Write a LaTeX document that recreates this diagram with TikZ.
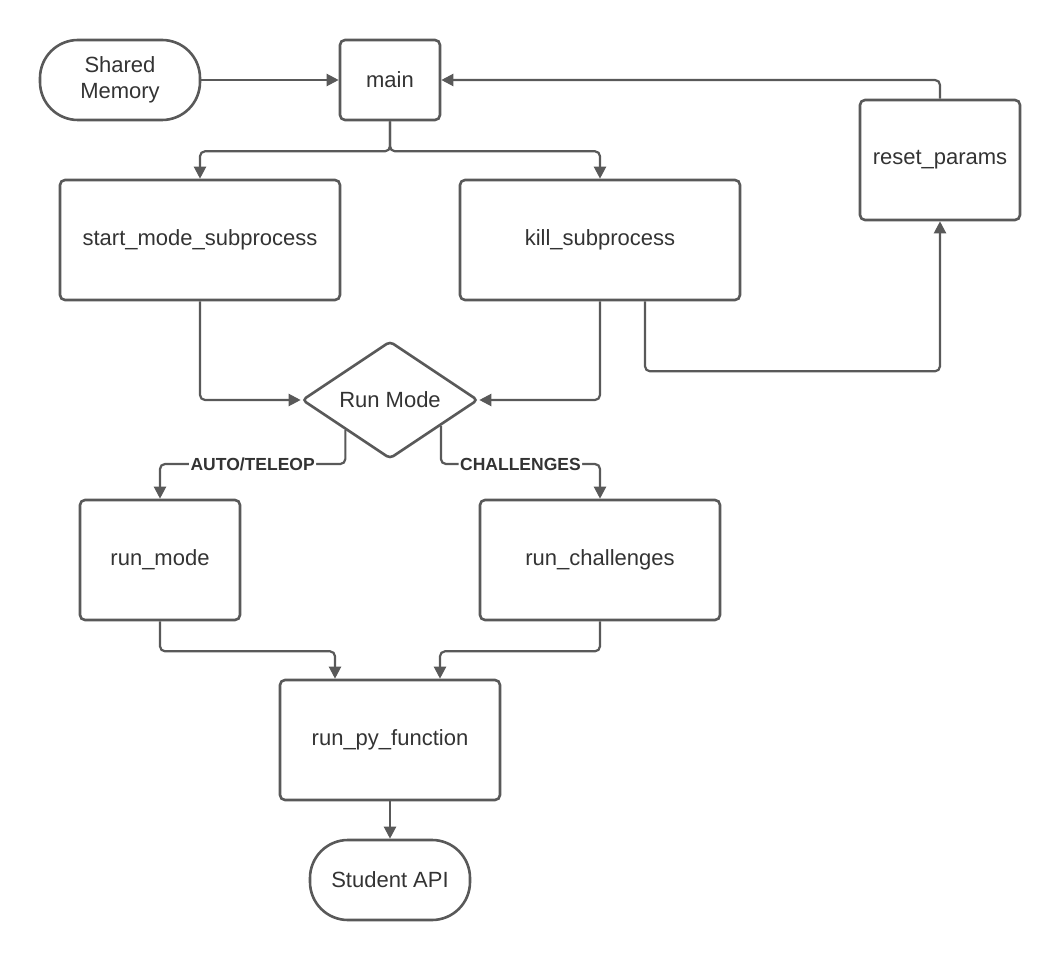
\documentclass[tikz,border=0pt]{standalone}
\usepackage{fontspec}
\setmainfont{Liberation Sans}
\usetikzlibrary{shapes.geometric,arrows.meta,calc}
\definecolor{ln}{HTML}{595959}
\definecolor{tx}{HTML}{333333}
\tikzset{
  x=1pt,y=-1pt,
  base/.style={draw=ln,line width=2.6pt,text=tx,font=\fontsize{22}{26}\selectfont,inner sep=0pt,align=center},
  boxnode/.style={base,rectangle,rounded corners=5pt},
  termnode/.style={base,rectangle,rounded corners=38pt},
  decnode/.style={base,diamond,rounded corners=4pt},
  conn/.style={draw=ln,line width=2.2pt,rounded corners=5pt,-{Triangle[length=12pt,width=12pt]}},
  lbl/.style={fill=white,text=tx,font=\fontsize{17.5}{20}\selectfont\bfseries,inner sep=1.5pt}
}
\begin{document}
\begin{tikzpicture}
\useasboundingbox (0,0) rectangle (1060,960);
\node[termnode,minimum width=160pt,minimum height=80pt] (sm) at (120,80) {Shared\\Memory};
\node[boxnode,minimum width=100pt,minimum height=80pt] (main) at (390,80) {main};
\node[boxnode,minimum width=160pt,minimum height=120pt] (reset) at (940,160) {reset\_params};
\node[boxnode,minimum width=280pt,minimum height=120pt] (start) at (200,240) {start\_mode\_subprocess};
\node[boxnode,minimum width=280pt,minimum height=120pt] (kill) at (600,240) {kill\_subprocess};
\node[decnode,minimum width=176pt,minimum height=116pt] (rm) at (390,400) {Run Mode};
\node[boxnode,minimum width=160pt,minimum height=120pt] (runm) at (160,560) {run\_mode};
\node[boxnode,minimum width=240pt,minimum height=120pt] (runc) at (600,560) {run\_challenges};
\node[boxnode,minimum width=220pt,minimum height=120pt] (rpy) at (390,740) {run\_py\_function};
\node[termnode,minimum width=160pt,minimum height=80pt] (api) at (390,880) {Student API};

\coordinate (rml) at ($(rm.west)!0.5!(rm.south)$);
\coordinate (rmr) at ($(rm.east)!0.43!(rm.south)$);

\draw[conn] (sm.east) -- (main.west);
\draw[conn] (reset.north) |- (main.east);
\draw[conn] (main.south) -- ++(0,30) -| (start.north);
\draw[conn] (main.south) -- ++(0,30) -| (kill.north);
\draw[conn] (start.south) |- (rm.west);
\draw[conn] (kill.south) |- (rm.east);
\draw[conn] ([xshift=45pt]kill.south) -- ++(0,70) -| (reset.south);
\draw[conn] (rml) -- (rml|-0,464) -| node[lbl,pos=0.25] {AUTO/TELEOP} (runm.north);
\draw[conn] (rmr) -- (rmr|-0,464) -| node[lbl,pos=0.25] {CHALLENGES} (runc.north);
\draw[conn] (runm.south) -- ++(0,30) -| ([xshift=-55pt]rpy.north);
\draw[conn] (runc.south) -- ++(0,30) -| ([xshift=50pt]rpy.north);
\draw[conn] (rpy.south) -- (api.north);
\end{tikzpicture}
\end{document}
